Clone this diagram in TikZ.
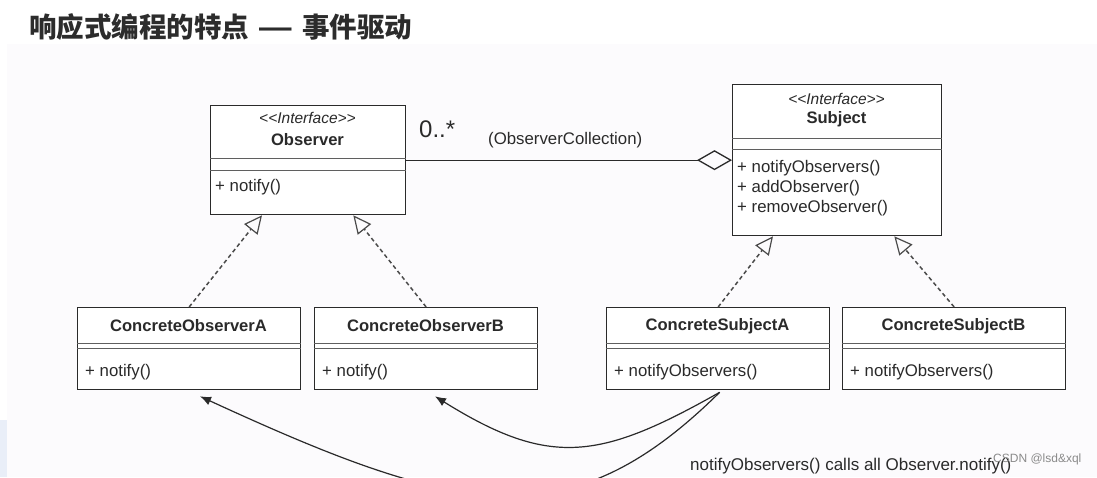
\documentclass[tikz,border=0pt]{standalone}
\usepackage{fontspec}
\setmainfont{Liberation Sans}
\newfontfamily\cjk{Noto Sans CJK SC}
\usetikzlibrary{arrows.meta,calc}
\definecolor{ink}{HTML}{2A2A2A}
\definecolor{panel}{HTML}{FCFBFD}
\definecolor{strip}{HTML}{E9EEF8}
\definecolor{titlec}{HTML}{2C2C2C}
\definecolor{wm}{HTML}{8A8A8A}
\begin{document}
\begin{tikzpicture}[x=1pt,y=-1pt,
  cls/.style={draw=ink,line width=1.3pt,fill=white,inner sep=0pt,anchor=north west},
  sepline/.style={draw=ink!75,line width=0.9pt},
  txt/.style={font=\fontsize{16.8}{19}\selectfont,text=ink,inner sep=0pt},
  cname/.style={txt,font=\fontsize{16.6}{19}\selectfont\bfseries},
  stereo/.style={txt,font=\fontsize{15.5}{17}\selectfont\itshape},
  meth/.style={txt,anchor=west},
  assoc/.style={draw=ink,line width=1.3pt,-{Diamond[open,length=35pt,width=20pt,line width=1.3pt]}},
  realize/.style={draw=ink!85,line width=1.5pt,dash pattern=on 4pt off 3pt,-{Triangle[open,length=18pt,width=17pt,line width=1.2pt]}},
  callarrow/.style={draw=ink,line width=1.2pt,-{Latex[length=11pt,width=9pt]}}
]
\useasboundingbox (0,0) rectangle (1097,477);
\clip (0,0) rectangle (1097,477);
\fill[white] (0,0) rectangle (1097,477);
\fill[panel] (7,44) rectangle (1097,477);
\fill[strip] (0,420) rectangle (7,477);

% title
\node[anchor=west,inner sep=0pt,text=titlec,font=\fontsize{27.5}{31}\selectfont] (title) at (29,27) {\cjk\bfseries 响应式编程的特点\hspace{0.3em}\scalebox{1.45}[1]{—}\hspace{0.3em}事件驱动};

% Observer
\node[cls,minimum width=195pt,minimum height=109pt] (obs) at (210,105) {};
\draw[sepline] ([yshift=-53pt]obs.north west) -- ([yshift=-53pt]obs.north east);
\draw[sepline] ([yshift=-65pt]obs.north west) -- ([yshift=-65pt]obs.north east);
\node[stereo] (obsst) at (307.5,118) {<\kern0pt<Interface>\kern0pt>};
\node[cname] (obsname) at (307.5,140) {Observer};
\node[meth] (obsm) at (215,187) {+ notify()};

% Subject
\node[cls,minimum width=209pt,minimum height=151pt] (sub) at (732,84) {};
\draw[sepline] ([yshift=-54pt]sub.north west) -- ([yshift=-54pt]sub.north east);
\draw[sepline] ([yshift=-65pt]sub.north west) -- ([yshift=-65pt]sub.north east);
\node[stereo] (subst) at (836.5,99) {<\kern0pt<Interface>\kern0pt>};
\node[cname] (subname) at (836.5,119) {Subject};
\node[meth] (subm1) at (737,168) {+ notifyObservers()};
\node[meth] (subm2) at (737,188) {+ addObserver()};
\node[meth] (subm3) at (737,208) {+ removeObserver()};

% Concrete classes
\foreach \id/\x/\nm/\m in {coa/77/ConcreteObserverA/+ notify(),
                         cob/314/ConcreteObserverB/+ notify(),
                         csa/606/ConcreteSubjectA/+ notifyObservers(),
                         csb/842/ConcreteSubjectB/+ notifyObservers()}{
  \node[cls,minimum width=223pt,minimum height=82pt] (\id) at (\x,307) {};
  \draw[sepline] ([yshift=-36pt]\id.north west) -- ([yshift=-36pt]\id.north east);
  \draw[sepline] ([yshift=-41pt]\id.north west) -- ([yshift=-41pt]\id.north east);
  \node[cname] (\id name) at ($(\x,326)+(111.5,0)$) {\nm};
  \node[meth] (\id meth) at ($(\x,372)+(8,0)$) {\m};
}

% aggregation
\draw[assoc] (obs.east) -- (sub.west);
\node[txt,anchor=west,font=\fontsize{24}{26}\selectfont] (mult) at (419,129) {0..*};
\node[txt,anchor=west] (coll) at (488,140) {(ObserverCollection)};

% realizations
\draw[realize] (coa.north) -- ([xshift=52pt]obs.south west);
\draw[realize] (cob.north) -- ([xshift=-53pt]obs.south east);
\draw[realize] (csa.north) -- ([xshift=41pt]sub.south west);
\draw[realize] (csb.north) -- ([xshift=-48pt]sub.south east);

% calls
\draw[callarrow] ([xshift=1.5pt,yshift=-2pt]csa.south) .. controls (600,460) and (550,468) .. ([xshift=121pt,yshift=-6pt]cob.south west);
\draw[callarrow] ([xshift=1.5pt,yshift=-2pt]csa.south) .. controls (569,541) and (460,516) .. ([xshift=123pt,yshift=-6pt]coa.south west);

\node[txt,anchor=west,font=\fontsize{17}{19}\selectfont] (note) at (690,466) {notifyObservers() calls all Observer.notify()};
\node[anchor=west,inner sep=0pt,text=wm,font=\fontsize{12}{14}\selectfont] (wmark) at (993,459) {CSDN @lsd\&xql};
\end{tikzpicture}
\end{document}
